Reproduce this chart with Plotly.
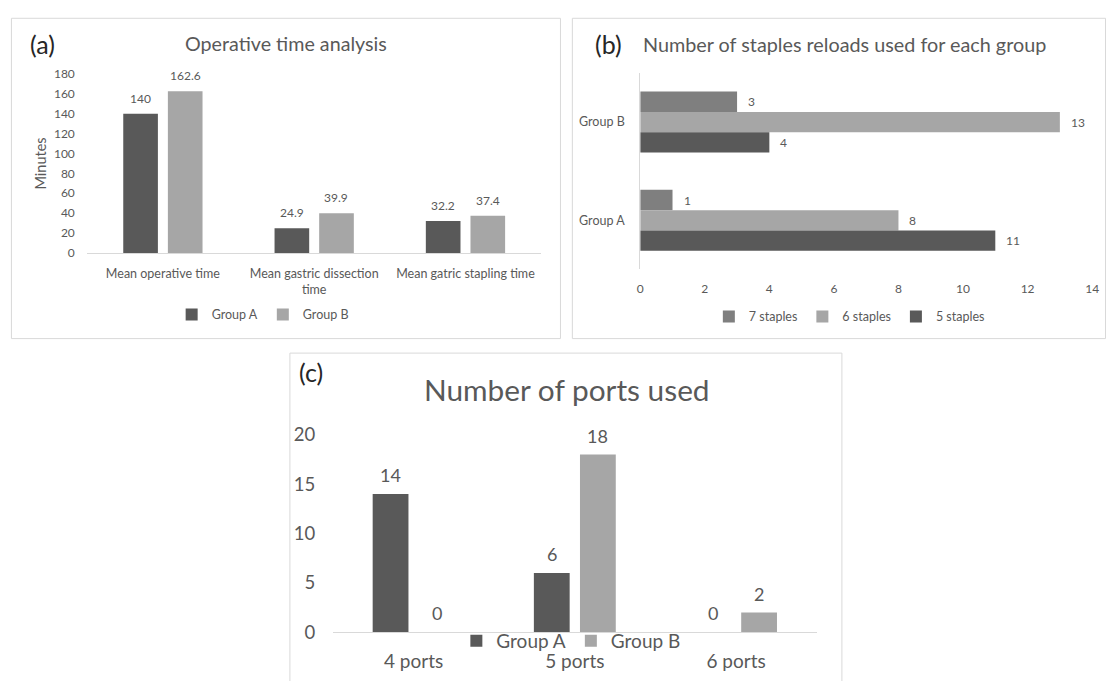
import plotly.graph_objects as go

# ---------------- data ----------------
# (a) Operative time analysis
time_categories = ["Mean operative time", "Mean gastric dissection time", "Mean gatric stapling time"]
time_tick_text = ["Mean operative time", "Mean gastric dissection<br>time", "Mean gatric stapling time"]
time_group_a = [140, 24.9, 32.2]
time_group_b = [162.6, 39.9, 37.4]
time_ticks = [0, 20, 40, 60, 80, 100, 120, 140, 160, 180]

# (b) Number of staples reloads used for each group
staple_groups = ["Group A", "Group B"]
staples_7 = [1, 3]
staples_6 = [8, 13]
staples_5 = [11, 4]
staple_ticks = [0, 2, 4, 6, 8, 10, 12, 14]

# (c) Number of ports used
port_categories = ["4 ports", "5 ports", "6 ports"]
ports_group_a = [14, 6, 0]
ports_group_b = [0, 18, 2]
port_ticks = [0, 5, 10, 15, 20]

# ---------------- style ----------------
W, H = 1115, 681
FONT = "Lato, 'Open Sans', sans-serif"
TXT = "#595959"
DARK = "#595959"
LIGHT = "#a6a6a6"
MID = "#7f7f7f"
AXLINE = "#d9d9d9"
LABEL = "#262626"


def px_x(p):
    return p / W


def px_y(p):
    return 1 - p / H


fig = go.Figure()
annotations = []

# ---------------- (a) ----------------
a_w = 0.229
a_off = {"Group A": -0.262, "Group B": 0.033}
for name, vals, col in [("Group A", time_group_a, DARK), ("Group B", time_group_b, LIGHT)]:
    fig.add_trace(go.Bar(
        x=time_categories, y=vals, name=name, marker_color=col,
        width=a_w, offset=a_off[name], xaxis="x", yaxis="y", legend="legend",
        marker_line_width=0,
    ))
    for i, v in enumerate(vals):
        annotations.append(dict(
            x=i + a_off[name] + a_w / 2, y=v, xref="x", yref="y", text=str(v),
            showarrow=False, yanchor="bottom", yshift=6,
            font=dict(family=FONT, size=12, color=TXT)))

# ---------------- (b) ----------------
b_w = 0.207
b_off = {"7 staples": 0.103, "6 staples": -0.104, "5 staples": -0.311}
for name, vals, col in [("7 staples", staples_7, MID), ("6 staples", staples_6, LIGHT), ("5 staples", staples_5, DARK)]:
    fig.add_trace(go.Bar(
        y=staple_groups, x=vals, name=name, orientation="h", marker_color=col,
        width=b_w, offset=b_off[name], xaxis="x2", yaxis="y2", legend="legend2",
        marker_line_width=0,
    ))
    for i, v in enumerate(vals):
        annotations.append(dict(
            x=v, y=i + b_off[name] + b_w / 2, xref="x2", yref="y2", text=str(v),
            showarrow=False, xanchor="left", xshift=9,
            font=dict(family=FONT, size=12, color=TXT)))

# ---------------- (c) ----------------
c_w = 0.222
c_off = {"Group A": -0.254, "Group B": 0.032}
for name, vals, col in [("Group A", ports_group_a, DARK), ("Group B", ports_group_b, LIGHT)]:
    fig.add_trace(go.Bar(
        x=port_categories, y=vals, name=name, marker_color=col,
        width=c_w, offset=c_off[name], xaxis="x3", yaxis="y3", legend="legend3",
        marker_line_width=0,
    ))
    for i, v in enumerate(vals):
        annotations.append(dict(
            x=i + c_off[name] + c_w / 2, y=v, xref="x3", yref="y3", text=str(v),
            showarrow=False, yanchor="bottom", yshift=6,
            font=dict(family=FONT, size=18, color=TXT)))

# ---------------- titles ----------------
annotations += [
    dict(x=px_x(286), y=px_y(33), xref="paper", yref="paper", text="Operative time analysis",
         showarrow=False, xanchor="center", yanchor="middle", font=dict(family=FONT, size=19.7, color=TXT)),
    dict(x=px_x(40), y=px_y(33), xref="paper", yref="paper", text="(a)",
         showarrow=False, xanchor="center", yanchor="middle", font=dict(family=FONT, size=25, color=LABEL)),
    dict(x=px_x(849), y=px_y(33), xref="paper", yref="paper", text="Number of staples reloads used for each group",
         showarrow=False, xanchor="center", yanchor="middle", font=dict(family=FONT, size=19.8, color=TXT)),
    dict(x=px_x(611), y=px_y(33), xref="paper", yref="paper", text="(b)",
         showarrow=False, xanchor="center", yanchor="middle", font=dict(family=FONT, size=25, color=LABEL)),
    dict(x=px_x(569), y=px_y(390), xref="paper", yref="paper", text="Number of ports used",
         showarrow=False, xanchor="center", yanchor="middle", font=dict(family=FONT, size=29.8, color=TXT)),
    dict(x=px_x(311), y=px_y(372), xref="paper", yref="paper", text="(c)",
         showarrow=False, xanchor="center", yanchor="middle", font=dict(family=FONT, size=25, color=LABEL)),
]

# ---------------- panel borders ----------------
shapes = []
for x0, y0, x1, y1 in [(8.5, 6.5, 562.5, 337.5), (574.5, 6.5, 1112.5, 337.5)]:
    shapes.append(dict(type="rect", xref="paper", yref="paper",
                       x0=px_x(x0), x1=px_x(x1), y0=px_y(y1), y1=px_y(y0),
                       line=dict(color=AXLINE, width=1), fillcolor="rgba(0,0,0,0)", layer="below"))
# panel (c): its bottom edge is cut off in the picture
shapes.append(dict(type="path", xref="paper", yref="paper",
                   path=f"M {px_x(289.5)},{px_y(700)} L {px_x(289.5)},{px_y(352.5)} "
                        f"L {px_x(846.5)},{px_y(352.5)} L {px_x(846.5)},{px_y(700)}",
                   line=dict(color=AXLINE, width=1), layer="below"))

tickfont_small = dict(family=FONT, size=12, color=TXT)
catfont_small = dict(family=FONT, size=12.5, color=TXT)
tickfont_big = dict(family=FONT, size=18.5, color=TXT)
catfont_big = dict(family=FONT, size=19, color=TXT)
clear = "rgba(0,0,0,0)"

fig.update_layout(
    width=W, height=H, margin=dict(l=0, r=0, t=0, b=0),
    paper_bgcolor="white", plot_bgcolor="white",
    barmode="overlay", font=dict(family=FONT, color=TXT),
    annotations=annotations, shapes=shapes,
    xaxis=dict(domain=[px_x(85), px_x(543)], type="category", categoryorder="array",
               categoryarray=time_categories, tickvals=time_categories, ticktext=time_tick_text,
               showline=True, linecolor=AXLINE, linewidth=1, showgrid=False, zeroline=False,
               ticks="outside", ticklen=9, tickcolor=clear, tickfont=catfont_small,
               anchor="y", fixedrange=True),
    yaxis=dict(domain=[px_y(249), px_y(64)], range=[0, 180], tickvals=time_ticks,
               showline=False, showgrid=False, zeroline=False,
               ticks="outside", ticklen=9, tickcolor=clear, tickfont=tickfont_small,
               title=dict(text="Minutes", font=dict(family=FONT, size=14.5, color=TXT), standoff=3),
               anchor="x", fixedrange=True),
    xaxis2=dict(domain=[px_x(643), px_x(1099)], range=[0, 14], tickvals=staple_ticks,
                showline=False, showgrid=False, zeroline=False,
                ticks="outside", ticklen=8, tickcolor=clear, tickfont=tickfont_small,
                anchor="y2", fixedrange=True),
    yaxis2=dict(domain=[px_y(266), px_y(63)], type="category", categoryorder="array",
                categoryarray=staple_groups, range=[-0.5, 1.5],
                showline=True, linecolor=AXLINE, linewidth=1, showgrid=False, zeroline=False,
                ticks="outside", ticklen=12, tickcolor=clear, tickfont=catfont_small,
                anchor="x2", fixedrange=True),
    xaxis3=dict(domain=[px_x(333), px_x(821)], type="category", categoryorder="array",
                categoryarray=port_categories,
                showline=True, linecolor=AXLINE, linewidth=1, showgrid=False, zeroline=False,
                ticks="outside", ticklen=12, tickcolor=clear, tickfont=catfont_big,
                anchor="y3", fixedrange=True),
    yaxis3=dict(domain=[px_y(641), px_y(437)], range=[0, 20], tickvals=port_ticks,
                showline=False, showgrid=False, zeroline=False,
                ticks="outside", ticklen=13, tickcolor=clear, tickfont=tickfont_big,
                anchor="x3", fixedrange=True),
    legend=dict(orientation="h", x=px_x(262), y=px_y(313), xanchor="center", yanchor="middle",
                font=dict(family=FONT, size=12.5, color=TXT), bgcolor=clear, itemclick=False),
    legend2=dict(orientation="h", x=px_x(854), y=px_y(315), xanchor="center", yanchor="middle",
                 font=dict(family=FONT, size=12.5, color=TXT), bgcolor=clear, itemclick=False),
    legend3=dict(orientation="h", x=px_x(573), y=px_y(650), xanchor="center", yanchor="middle",
                 font=dict(family=FONT, size=19, color=TXT), bgcolor=clear, itemclick=False),
)

fig.write_html("out.html", config={"displayModeBar": False},
               post_script="document.body.style.margin='0';document.body.style.overflow='hidden';")
